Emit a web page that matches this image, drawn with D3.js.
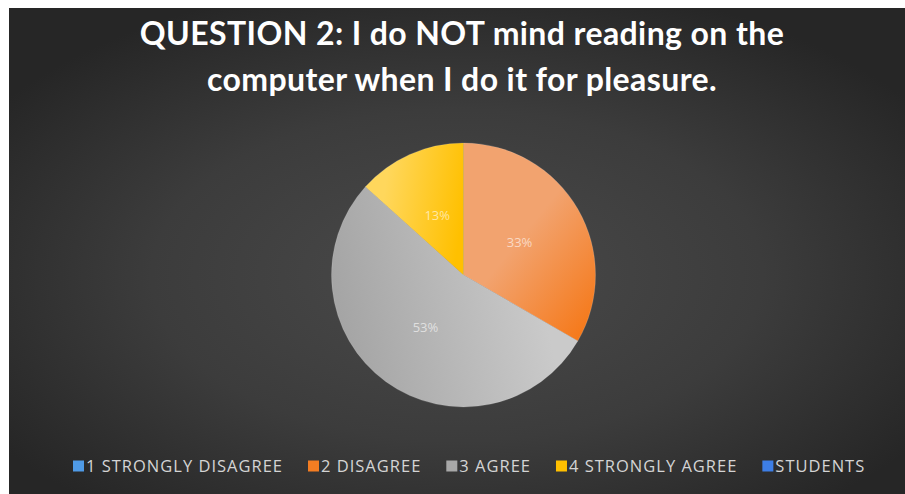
<!DOCTYPE html>
<html>
<head>
<meta charset="utf-8">
<script src="https://cdn.jsdelivr.net/npm/d3@7"></script>
<style>
  html, body { margin: 0; padding: 0; background: #ffffff; }
  svg { display: block; }
</style>
</head>
<body>
<svg id="chart" width="905" height="494"></svg>
<script>
// Survey responses for question 2 (number of students per answer)
const categories = ["1 STRONGLY DISAGREE", "2 DISAGREE", "3 AGREE", "4 STRONGLY AGREE"];
const counts = [0, 5, 8, 2];
const legendLabels = ["1 STRONGLY DISAGREE", "2 DISAGREE", "3 AGREE", "4 STRONGLY AGREE", "STUDENTS"];
const legendColors = ["#4f9ae6", "#f47d22", "#a8a8a8", "#ffc000", "#3d7ee6"];
const titleLines = ["QUESTION 2: I do NOT mind reading on the", "computer when I do it for pleasure."];

// Gradient stops for each slice: [light, dark]
const sliceShades = [
  ["#7fb6ee", "#4f9ae6"],
  ["#f2a36f", "#f57a1c"],
  ["#cacaca", "#a5a5a5"],
  ["#ffd75c", "#ffc000"]
];

const svg = d3.select("#chart");
const W = 905, H = 494;
const frame = { x: 9, y: 8, w: W - 9, h: H - 8 };

const defs = svg.append("defs");

// Chart area background: dark with a softer glow toward the middle
const bg = defs.append("radialGradient").attr("id", "bgGrad")
  .attr("cx", "0.5").attr("cy", "0.55").attr("r", "0.62");
bg.append("stop").attr("offset", "0").attr("stop-color", "#4a4a4a");
bg.append("stop").attr("offset", "0.55").attr("stop-color", "#3c3c3c");
bg.append("stop").attr("offset", "1").attr("stop-color", "#262626");

svg.append("rect")
  .attr("x", frame.x).attr("y", frame.y)
  .attr("width", frame.w).attr("height", frame.h)
  .attr("fill", "url(#bgGrad)");

// Title
const title = svg.append("text")
  .attr("x", 462).attr("y", 45)
  .attr("text-anchor", "middle")
  .attr("fill", "#ffffff")
  .style("font-family", "Lato, 'Open Sans', sans-serif")
  .style("font-weight", "700")
  .style("font-size", "32px")
  .style("letter-spacing", "0.4px");
title.selectAll("tspan").data(titleLines).join("tspan")
  .attr("x", 462)
  .attr("dy", (d, i) => i === 0 ? 0 : 46)
  .text(d => d);

// Slice gradients
const gradDirs = [
  { x1: 0, y1: 0, x2: 1, y2: 1 },
  { x1: 0.2, y1: 0.1, x2: 0.9, y2: 0.95 },
  { x1: 1, y1: 0.2, x2: 0, y2: 0.4 },
  { x1: 0, y1: 0.3, x2: 1, y2: 0.5 }
];
categories.forEach((c, i) => {
  const g = defs.append("linearGradient").attr("id", "slice" + i)
    .attr("x1", gradDirs[i].x1).attr("y1", gradDirs[i].y1)
    .attr("x2", gradDirs[i].x2).attr("y2", gradDirs[i].y2);
  g.append("stop").attr("offset", i === 1 ? "0.4" : "0.2").attr("stop-color", sliceShades[i][0]);
  g.append("stop").attr("offset", "1").attr("stop-color", sliceShades[i][1]);
});

// Pie
const cx = 463.5, cy = 275, radius = 132;
const total = d3.sum(counts);
const pie = d3.pie().sort(null).value(d => d.value);
const arcs = pie(categories.map((c, i) => ({ name: c, value: counts[i], idx: i })));
const arc = d3.arc().innerRadius(0).outerRadius(radius);
const labelArc = d3.arc().innerRadius(radius * 0.49).outerRadius(radius * 0.49);

const g = svg.append("g").attr("transform", `translate(${cx},${cy})`);

g.selectAll("path.slice").data(arcs.filter(d => d.data.value > 0)).join("path")
  .attr("class", "slice")
  .attr("d", arc)
  .attr("fill", d => `url(#slice${d.data.idx})`)
  .attr("stroke", "rgba(255,255,255,0.18)")
  .attr("stroke-width", 0.8);

const pct = d3.format(".0%");
g.selectAll("text.val").data(arcs.filter(d => d.data.value > 0)).join("text")
  .attr("class", "val")
  .attr("transform", d => `translate(${labelArc.centroid(d)})`)
  .attr("text-anchor", "middle")
  .attr("dy", "0.35em")
  .attr("fill", "#ffffff")
  .attr("fill-opacity", 0.6)
  .style("font-family", "'Open Sans', Lato, sans-serif")
  .style("font-size", "13px")
  .text(d => pct(d.data.value / total));

// Legend
const legend = svg.append("g").attr("transform", "translate(73,466)");
const sq = 11, gapText = 2, gapItem = 25;
let lx = 0;
legendLabels.forEach((lab, i) => {
  const item = legend.append("g").attr("transform", `translate(${lx},0)`);
  item.append("rect")
    .attr("x", 0).attr("y", -sq / 2)
    .attr("width", sq).attr("height", sq)
    .attr("fill", legendColors[i]);
  const t = item.append("text")
    .attr("x", sq + gapText).attr("y", 0)
    .attr("dy", "0.36em")
    .attr("fill", "#d4d4d4")
    .style("font-family", "'Open Sans', Lato, sans-serif")
    .style("font-size", "16.5px")
    .style("letter-spacing", "1px")
    .text(lab);
  lx += sq + gapText + t.node().getComputedTextLength() + gapItem;
});
</script>
</body>
</html>
